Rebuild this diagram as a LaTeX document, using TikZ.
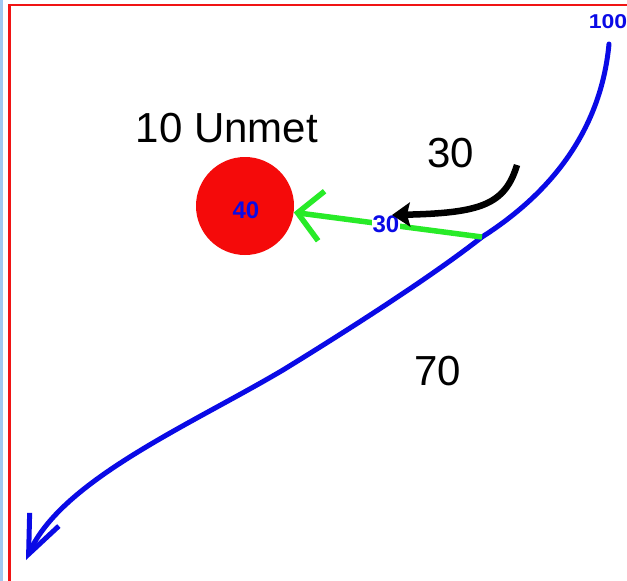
\documentclass[tikz,border=0pt]{standalone}
\usepackage{fontspec}
\setmainfont{Liberation Sans}
\usetikzlibrary{arrows.meta}
\definecolor{frame}{RGB}{240,20,20}
\definecolor{strip}{RGB}{160,200,240}
\definecolor{bluel}{RGB}{10,10,230}
\definecolor{greenl}{RGB}{40,235,40}
\definecolor{circ}{RGB}{245,10,10}
\tikzset{
  bigtext/.style={font=\fontsize{42}{46}\selectfont, text=black, inner sep=0pt},
  smallblue/.style={font=\fontsize{24}{26}\selectfont\bfseries, text=bluel, inner sep=1pt},
  flowline/.style={line width=5pt, draw=bluel, line cap=round, line join=round},
}
\begin{document}
\begin{tikzpicture}[x=1pt,y=-1pt]
\useasboundingbox (0,0) rectangle (627,581);
\fill[white] (0,0) rectangle (627,581);
\fill[strip] (0,0) rectangle (2.5,581);
\draw[frame, line width=2.5pt] (9.5,581) -- (9.5,5) -- (627,5);

% circle
\node[circle, fill=circ, minimum size=98pt, inner sep=0pt] (c) at (245,206) {};
\node[smallblue] (n40) at (246,210) {40};
\node[bigtext] (unmet) at (227,128) {10 Unmet};

% blue main flow
\coordinate (top) at (609,44);
\coordinate (g) at (482,237);
\coordinate (mid) at (283,370);
\coordinate (bot) at (26,560);
\draw[flowline, -{Straight Barb[length=38pt,width=32pt,line width=5pt]}]
  (top) .. controls (600,140) and (540,200) .. (g)
  .. controls (430,278) and (340,335) .. (mid)
  .. controls (190,425) and (62,480) .. (bot);
\node[smallblue, font=\fontsize{20}{22}\selectfont\bfseries, xscale=1.15] (n100) at (608,22) {100};

% green flow
\draw[greenl, line width=5.5pt, -{Straight Barb[length=24pt,width=50pt,line width=5.5pt]}] (g) -- (c);
\node[smallblue, fill=white] (n30) at (386,224) {30};

% black arrow
\coordinate (bs) at (517,165);
\coordinate (be) at (392,215);
\draw[black, line width=6.5pt, -{Stealth[length=18pt,width=24pt,inset=3pt]}] (bs) .. controls (505,205) and (480,213) .. (be);
\node[bigtext] (t30) at (451,153) {30};
\node[bigtext] (t70) at (438,371) {70};
\end{tikzpicture}
\end{document}
